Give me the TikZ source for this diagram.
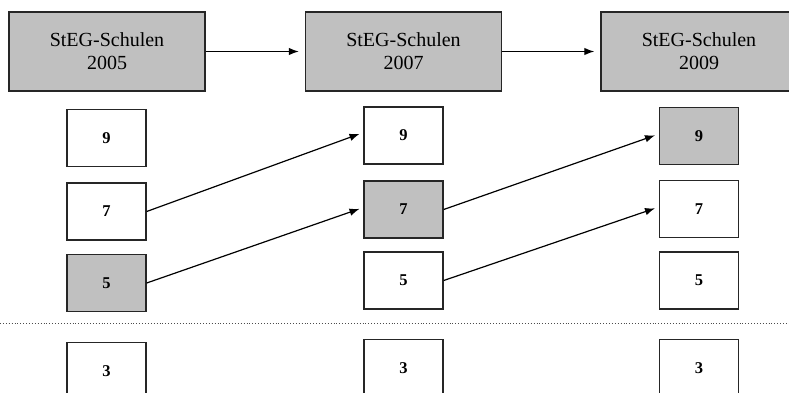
\documentclass[tikz,border=0pt]{standalone}
\usepackage{fontspec}
\setmainfont{Liberation Serif}
\usetikzlibrary{arrows.meta}
\definecolor{boxgray}{HTML}{C0C0C0}
\begin{document}
\begin{tikzpicture}[x=1pt,y=-1pt,
  bigbox/.style={draw=black!85,line width=1.4pt,fill=boxgray,minimum width=196pt,minimum height=79pt,inner sep=0pt,align=center,font=\fontsize{20}{23}\selectfont},
  numbox/.style={draw=black!85,line width=1.4pt,fill=white,minimum width=79pt,minimum height=57pt,inner sep=0pt,font=\fontsize{16.5}{19}\selectfont\bfseries},
  hl/.style={fill=boxgray},
  conn/.style={line width=1.2pt,-{Latex[length=10pt,width=7.5pt]}}]
\useasboundingbox (0,0) rectangle (789,393);
% top boxes
\node[bigbox] (y05) at (107,51.5) {StEG-Schulen\\2005};
\node[bigbox] (y07) at (403.5,51.5) {StEG-Schulen\\2007};
\node[bigbox] (y09) at (699,51.5) {StEG-Schulen\\2009};
\draw[conn,shorten >=6pt] (y05.east) -- (y07.west);
\draw[conn,shorten >=6pt] (y07.east) -- (y09.west);
% column 1
\node[numbox] (a9) at (106.5,138) {9};
\node[numbox] (a7) at (106.5,211.5) {7};
\node[numbox,hl] (a5) at (106.5,283) {5};
\node[numbox] (a3) at (106.5,371) {3};
% column 2
\node[numbox] (b9) at (403.5,135.5) {9};
\node[numbox,hl] (b7) at (403.5,209.5) {7};
\node[numbox] (b5) at (403.5,280.5) {5};
\node[numbox] (b3) at (403.5,368) {3};
% column 3
\node[numbox,hl] (c9) at (699,136) {9};
\node[numbox] (c7) at (699,209) {7};
\node[numbox] (c5) at (699,280.5) {5};
\node[numbox] (c3) at (699,368) {3};
% arrows
\draw[conn,shorten >=4pt] (a7.east) -- ([yshift=3pt]b9.west);
\draw[conn,shorten >=4pt] (a5.east) -- ([yshift=2pt]b7.west);
\draw[conn,shorten >=4pt] (b7.east) -- ([yshift=2pt]c9.west);
\draw[conn,shorten >=4pt] (b5.east) -- ([yshift=2pt]c7.west);
% dotted separator
\coordinate (dl) at (0,323);
\coordinate (dr) at (789,323);
\draw[line width=0.9pt,dotted,black!70] (dl) -- (dr);
\end{tikzpicture}
\end{document}
